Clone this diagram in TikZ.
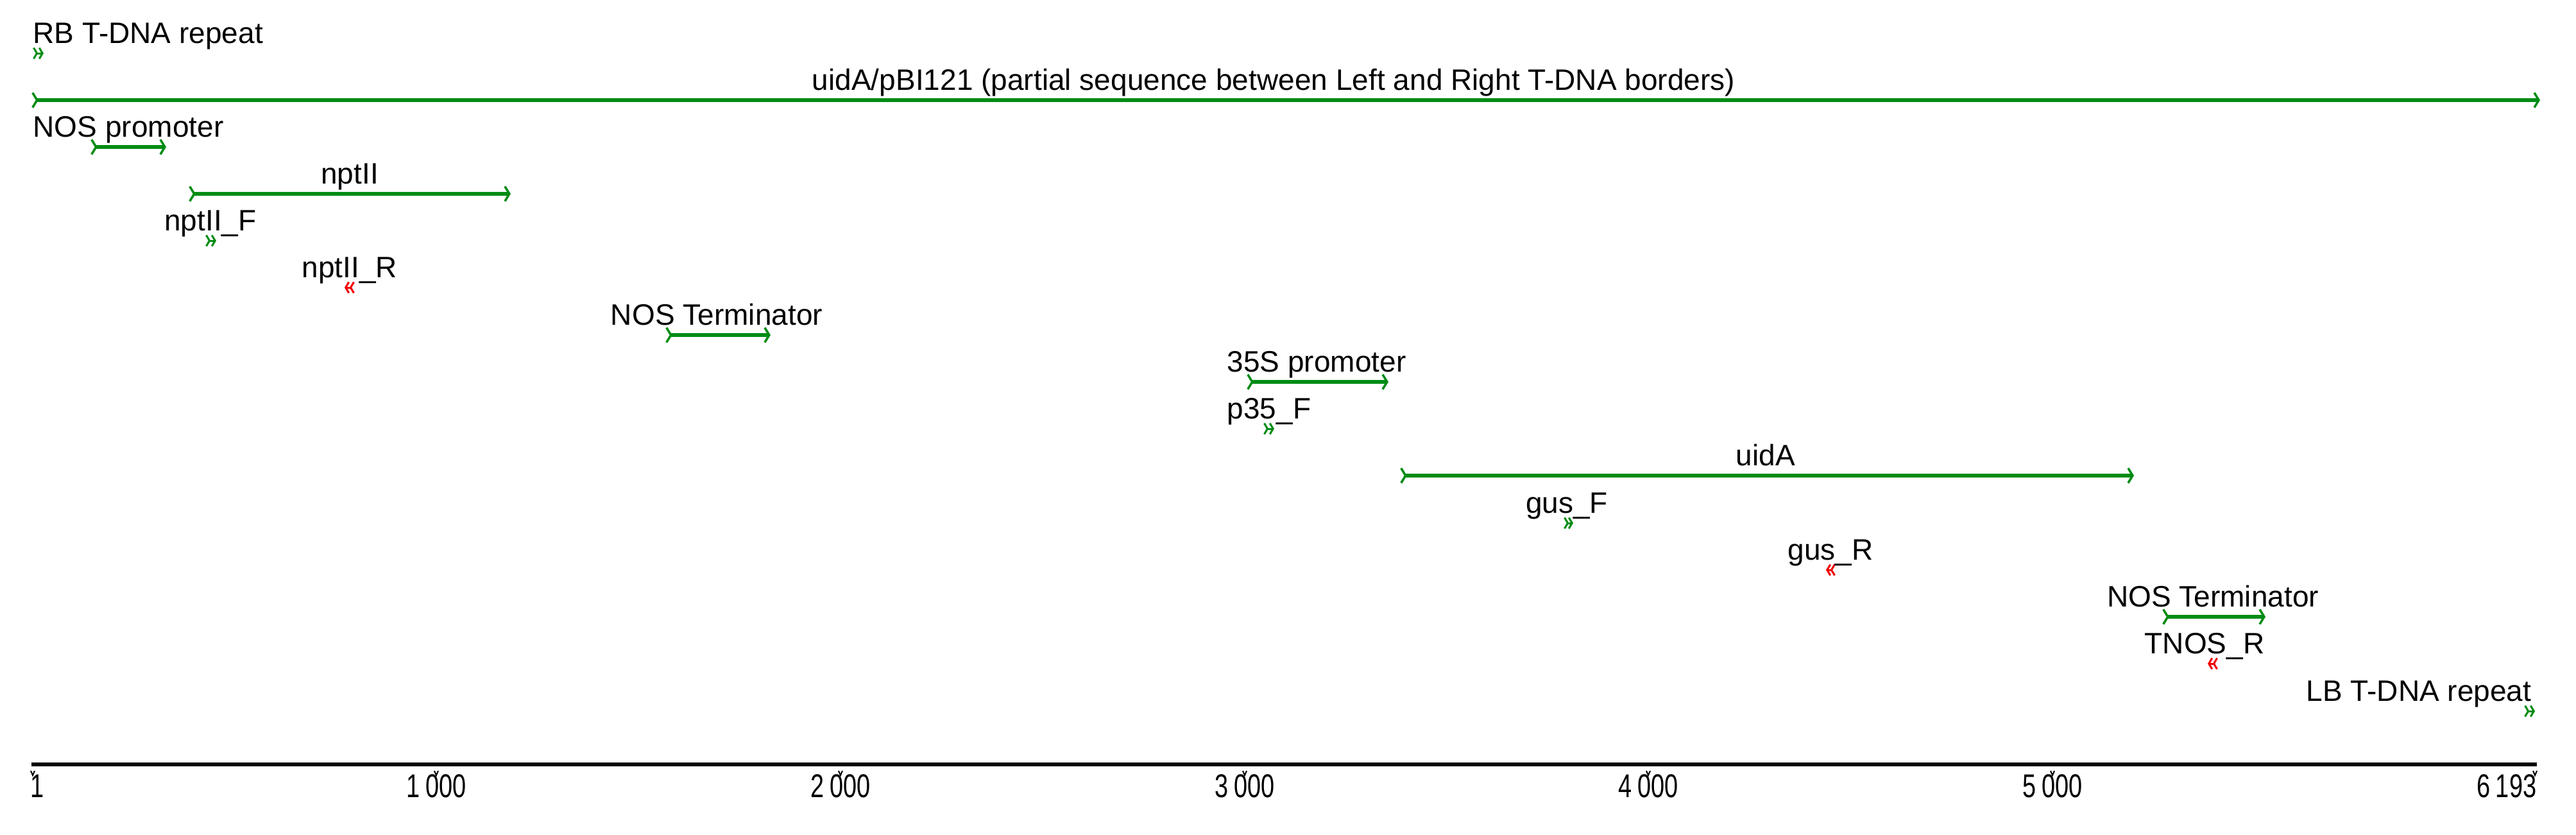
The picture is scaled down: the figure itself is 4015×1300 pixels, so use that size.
\documentclass[tikz,border=0pt]{standalone}
\usepackage{fontspec}
\setmainfont{Liberation Sans}
\newfontfamily\axisfont{Liberation Sans}[FakeStretch=0.74]
\usetikzlibrary{arrows.meta}
\definecolor{featgreen}{RGB}{0,140,20}
\definecolor{primred}{RGB}{240,0,0}
\begin{document}
\begin{tikzpicture}[x=0.1mm,y=-0.1mm,
  lbl/.style={inner sep=0pt, font=\fontsize{13.1pt}{15pt}\selectfont, anchor=base},
  axlbl/.style={inner sep=0pt, font=\axisfont\fontsize{14.6pt}{16pt}\selectfont, anchor=base},
  feat/.style={draw=featgreen, line width=0.55mm,
    arrows={Straight Barb[reversed,length=0.7mm,width=2.3mm,line width=0.35mm]-Straight Barb[length=0.7mm,width=2.3mm,line width=0.35mm]}},
  fwdprimer/.style={draw=featgreen, line width=0.3mm,
    arrows={Straight Barb[reversed,length=0.5mm,width=1.7mm,line width=0.3mm]-Straight Barb[length=0.5mm,width=1.7mm,line width=0.3mm]}},
  revprimer/.style={draw=primred, line width=0.3mm,
    arrows={Straight Barb[reversed,length=0.5mm,width=1.7mm,line width=0.3mm]-Straight Barb[length=0.5mm,width=1.7mm,line width=0.3mm]}},
  axisline/.style={draw=black, line width=0.6mm},
  tickmark/.style={draw=black, line width=0.2mm}
]
\useasboundingbox (0,0) rectangle (4015,1300);
\fill[white] (0,0) rectangle (4015,1300);

% RB T-DNA repeat
\coordinate (rbA) at (51,83); \coordinate (rbB) at (68,83);
\draw[fwdprimer] (rbA) -- (rbB);
\node[lbl, anchor=base west] (rbL) at (51,67) {RB T-DNA repeat};

% main sequence
\coordinate (mainA) at (49,156); \coordinate (mainB) at (3959,156);
\draw[feat] (mainA) -- (mainB);
\node[lbl] (mainL) at (1985,140) {uidA/pBI121 (partial sequence between Left and Right T-DNA borders)};

% NOS promoter
\coordinate (nospA) at (141,229); \coordinate (nospB) at (259,229);
\draw[feat] (nospA) -- (nospB);
\node[lbl, anchor=base west] (nospL) at (51,213) {NOS promoter};

% nptII
\coordinate (nptA) at (294,302); \coordinate (nptB) at (796,302);
\draw[feat] (nptA) -- (nptB);
\node[lbl] (nptL) at (545,286) {nptII};

% nptII_F
\coordinate (nptFA) at (320,375); \coordinate (nptFB) at (337,375);
\draw[fwdprimer] (nptFA) -- (nptFB);
\node[lbl] (nptFL) at (328,359) {nptII\_F};

% nptII_R
\coordinate (nptRA) at (553,448); \coordinate (nptRB) at (537,448);
\draw[revprimer] (nptRA) -- (nptRB);
\node[lbl] (nptRL) at (545,432) {nptII\_R};

% NOS Terminator 1
\coordinate (nost1A) at (1037,522); \coordinate (nost1B) at (1201,522);
\draw[feat] (nost1A) -- (nost1B);
\node[lbl] (nost1L) at (1117,506) {NOS Terminator};

% 35S promoter
\coordinate (p35A) at (1943,595); \coordinate (p35B) at (2164,595);
\draw[feat] (p35A) -- (p35B);
\node[lbl] (p35L) at (2052,579) {35S promoter};

% p35_F
\coordinate (p35FA) at (1969,668); \coordinate (p35FB) at (1986,668);
\draw[fwdprimer] (p35FA) -- (p35FB);
\node[lbl] (p35FL) at (1978,652) {p35\_F};

% uidA
\coordinate (uidA) at (2182,741); \coordinate (uidB) at (3326,741);
\draw[feat] (uidA) -- (uidB);
\node[lbl] (uidL) at (2752,725) {uidA};

% gus_F
\coordinate (gusFA) at (2437,815); \coordinate (gusFB) at (2452,815);
\draw[fwdprimer] (gusFA) -- (gusFB);
\node[lbl] (gusFL) at (2442,799) {gus\_F};

% gus_R
\coordinate (gusRA) at (2861,888); \coordinate (gusRB) at (2846,888);
\draw[revprimer] (gusRA) -- (gusRB);
\node[lbl] (gusRL) at (2853,872) {gus\_R};

% NOS Terminator 2
\coordinate (nost2A) at (3370,961); \coordinate (nost2B) at (3531,961);
\draw[feat] (nost2A) -- (nost2B);
\node[lbl] (nost2L) at (3449,945) {NOS Terminator};

% TNOS_R
\coordinate (tnosA) at (3457,1034); \coordinate (tnosB) at (3441,1034);
\draw[revprimer] (tnosA) -- (tnosB);
\node[lbl] (tnosL) at (3436,1018) {TNOS\_R};

% LB T-DNA repeat
\coordinate (lbA) at (3934,1108); \coordinate (lbB) at (3951,1108);
\draw[fwdprimer] (lbA) -- (lbB);
\node[lbl, anchor=base east] (lbL) at (3946,1092) {LB T-DNA repeat};

% axis
\coordinate (axA) at (49,1191); \coordinate (axB) at (3954,1191);
\draw[axisline] (axA) -- (axB);
\foreach \xx in {51,680,1310,1940,2569,3199,3951}{
  \draw[tickmark] (\xx-3,1201) -- (\xx,1208) -- (\xx+3,1201);
}
\node[axlbl, anchor=base west] (a1) at (47,1242) {1};
\node[axlbl] (a1000) at (680,1242) {1\,000};
\node[axlbl] (a2000) at (1310,1242) {2\,000};
\node[axlbl] (a3000) at (1940,1242) {3\,000};
\node[axlbl] (a4000) at (2569,1242) {4\,000};
\node[axlbl] (a5000) at (3199,1242) {5\,000};
\node[axlbl, anchor=base east] (a6193) at (3954,1242) {6\,193};
\end{tikzpicture}
\end{document}
